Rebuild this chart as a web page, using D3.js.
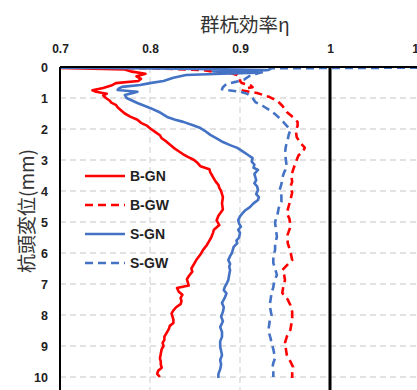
<!DOCTYPE html>
<html><head><meta charset="utf-8">
<script src="https://cdn.jsdelivr.net/npm/d3@7"></script>
<style>body{margin:0;background:#fff;}svg{display:block;}</style>
</head><body><svg id="c" width="417" height="390"></svg>
<script>
const xTicks = [0.7, 0.8, 0.9, 1.0, 1.1];
const xTickLabels = ["0.7", "0.8", "0.9", "1", "1.1"];
const yTicks = [0,1,2,3,4,5,6,7,8,9,10];
const seriesNames = ["B-GN", "B-GW", "S-GN", "S-GW"];
// [depth (mm), eta]
const bgn = [[0,0.6],[0.03,0.7],[0.08,0.772],[0.15,0.78],[0.22,0.795],[0.3,0.785],[0.38,0.79],[0.45,0.787],[0.52,0.762],[0.6,0.757],[0.68,0.748],[0.75,0.736],[0.8,0.74],[0.86,0.752],[0.92,0.748],[1.0,0.751],[1.08,0.755],[1.15,0.757],[1.22,0.762],[1.3,0.764],[1.4,0.768],[1.5,0.772],[1.6,0.778],[1.7,0.786],[1.8,0.79],[1.9,0.797],[2.0,0.801],[2.1,0.806],[2.2,0.811],[2.3,0.813],[2.4,0.818],[2.5,0.822],[2.6,0.826],[2.7,0.831],[2.8,0.836],[2.9,0.842],[3.0,0.849],[3.1,0.853],[3.2,0.856],[3.3,0.866],[3.4,0.867],[3.5,0.869],[3.6,0.871],[3.7,0.873],[3.8,0.876],[3.9,0.877],[4.0,0.879],[4.1,0.88],[4.2,0.881],[4.4,0.88],[4.6,0.881],[4.8,0.876],[4.95,0.874],[5.1,0.877],[5.25,0.871],[5.35,0.87],[5.5,0.868],[5.6,0.866],[5.75,0.863],[5.9,0.859],[6.05,0.856],[6.2,0.852],[6.35,0.849],[6.5,0.846],[6.6,0.847],[6.75,0.843],[6.85,0.841],[6.95,0.842],[7.05,0.843],[7.13,0.83],[7.25,0.832],[7.35,0.836],[7.45,0.834],[7.55,0.835],[7.65,0.834],[7.75,0.829],[7.85,0.826],[7.95,0.824],[8.05,0.825],[8.15,0.826],[8.26,0.826],[8.35,0.822],[8.45,0.821],[8.55,0.819],[8.7,0.816],[8.8,0.816],[8.9,0.814],[9.0,0.815],[9.1,0.813],[9.25,0.812],[9.4,0.811],[9.5,0.812],[9.6,0.812],[9.7,0.813],[9.8,0.809],[9.9,0.808],[10.0,0.811]];
const bgw = [[0,0.6],[0.04,0.8],[0.1,0.86],[0.15,0.87],[0.2,0.89],[0.26,0.897],[0.35,0.9],[0.45,0.9],[0.52,0.902],[0.6,0.912],[0.65,0.914],[0.7,0.905],[0.76,0.903],[0.84,0.919],[0.97,0.933],[1.1,0.942],[1.25,0.947],[1.45,0.952],[1.6,0.958],[1.77,0.964],[1.9,0.964],[2.05,0.962],[2.26,0.963],[2.45,0.967],[2.6,0.972],[2.74,0.97],[2.85,0.965],[3.0,0.963],[3.15,0.961],[3.32,0.959],[3.5,0.957],[3.7,0.958],[3.87,0.956],[4.05,0.958],[4.29,0.956],[4.5,0.954],[4.71,0.952],[4.9,0.955],[5.16,0.956],[5.4,0.953],[5.68,0.953],[5.95,0.956],[6.23,0.958],[6.4,0.952],[6.55,0.947],[6.7,0.949],[6.87,0.95],[7.1,0.948],[7.29,0.947],[7.5,0.953],[7.68,0.956],[7.9,0.958],[8.1,0.958],[8.3,0.957],[8.48,0.956],[8.7,0.952],[8.9,0.95],[9.1,0.951],[9.29,0.952],[9.5,0.956],[9.68,0.959],[9.85,0.958],[10.03,0.958]];
const sgn = [[0,0.6],[0.03,0.75],[0.06,0.85],[0.1,0.93],[0.14,0.87],[0.18,0.92],[0.22,0.88],[0.26,0.84],[0.35,0.826],[0.45,0.815],[0.52,0.8],[0.58,0.789],[0.64,0.769],[0.7,0.765],[0.74,0.764],[0.8,0.786],[0.85,0.78],[0.9,0.772],[0.95,0.773],[1.0,0.774],[1.08,0.78],[1.16,0.786],[1.24,0.793],[1.32,0.8],[1.45,0.81],[1.61,0.819],[1.7,0.828],[1.77,0.837],[1.87,0.847],[1.97,0.856],[2.08,0.862],[2.19,0.867],[2.3,0.874],[2.42,0.881],[2.52,0.889],[2.61,0.897],[2.72,0.903],[2.84,0.909],[2.94,0.914],[3.05,0.913],[3.15,0.916],[3.25,0.915],[3.32,0.92],[3.45,0.916],[3.55,0.917],[3.65,0.918],[3.75,0.916],[3.85,0.919],[3.97,0.92],[4.1,0.918],[4.2,0.921],[4.29,0.92],[4.4,0.915],[4.52,0.911],[4.62,0.906],[4.71,0.903],[4.82,0.9],[4.94,0.898],[5.05,0.899],[5.15,0.901],[5.25,0.898],[5.35,0.9],[5.5,0.899],[5.6,0.896],[5.68,0.897],[5.8,0.893],[5.9,0.892],[6.0,0.891],[6.1,0.889],[6.23,0.887],[6.35,0.889],[6.45,0.888],[6.55,0.889],[6.7,0.888],[6.87,0.887],[7.0,0.885],[7.1,0.883],[7.2,0.882],[7.3,0.885],[7.45,0.883],[7.61,0.88],[7.75,0.882],[7.9,0.881],[8.05,0.879],[8.2,0.881],[8.39,0.878],[8.55,0.88],[8.7,0.88],[8.85,0.878],[9.03,0.878],[9.15,0.879],[9.3,0.88],[9.45,0.878],[9.6,0.879],[9.75,0.878],[9.9,0.876],[10.03,0.876]];
const sgw = [[0,1.3],[0.04,0.935],[0.12,0.93],[0.2,0.92],[0.3,0.91],[0.4,0.905],[0.48,0.895],[0.55,0.885],[0.65,0.881],[0.72,0.88],[0.8,0.9],[0.86,0.908],[1.0,0.914],[1.13,0.917],[1.25,0.925],[1.39,0.933],[1.52,0.939],[1.65,0.944],[1.77,0.948],[1.9,0.952],[2.03,0.956],[2.2,0.954],[2.35,0.953],[2.55,0.951],[2.77,0.95],[3.0,0.951],[3.23,0.952],[3.4,0.949],[3.58,0.947],[3.78,0.946],[3.97,0.944],[4.15,0.946],[4.35,0.946],[4.55,0.943],[4.71,0.942],[4.87,0.94],[5.03,0.939],[5.25,0.94],[5.48,0.941],[5.7,0.939],[5.9,0.939],[6.1,0.937],[6.32,0.937],[6.5,0.939],[6.71,0.941],[6.9,0.938],[7.1,0.937],[7.3,0.935],[7.5,0.934],[7.68,0.933],[7.85,0.934],[8.0,0.935],[8.2,0.933],[8.4,0.932],[8.55,0.932],[8.75,0.934],[8.9,0.935],[9.1,0.937],[9.25,0.938],[9.39,0.939],[9.55,0.937],[9.7,0.936],[9.85,0.937],[10.0,0.937]];

const series = [
  {name: seriesNames[0], data: bgn, color: "#ff0000", dash: null},
  {name: seriesNames[1], data: bgw, color: "#ff0000", dash: "8,5"},
  {name: seriesNames[2], data: sgn, color: "#4472c4", dash: null},
  {name: seriesNames[3], data: sgw, color: "#4472c4", dash: "8,5"}
];

const svg = d3.select("#c");
const L = 60, T = 67, R = 420, B = 420;
const x = d3.scaleLinear().domain([0.7, 1.1]).range([L, R]);
const y = d3.scaleLinear().domain([0, 10]).range([T, 377]);

svg.append("defs").append("clipPath").attr("id","clip")
  .append("rect").attr("x", L).attr("y", T).attr("width", R - L).attr("height", B - T);

// grid
const g = svg.append("g");
g.selectAll("line.hg").data(yTicks.filter(d => d > 0)).enter().append("line")
  .attr("x1", L).attr("x2", R).attr("y1", d => y(d)).attr("y2", d => y(d))
  .attr("stroke", "#d9d9d9").attr("stroke-width", 1.3).attr("stroke-dasharray", "6,4");
g.selectAll("line.vg").data(xTicks.filter(d => d > 0.7 && d !== 1.0)).enter().append("line")
  .attr("y1", T).attr("y2", B).attr("x1", d => x(d)).attr("x2", d => x(d))
  .attr("stroke", "#d9d9d9").attr("stroke-width", 1.3).attr("stroke-dasharray", "6,4");

// series
const line = d3.line().x(d => x(d[1])).y(d => y(d[0]));
const sg = svg.append("g").attr("clip-path", "url(#clip)");
series.forEach(s => {
  sg.append("path").datum(s.data).attr("d", line)
    .attr("fill", "none").attr("stroke", s.color).attr("stroke-width", 2.6)
    .attr("stroke-linejoin", "round")
    .attr("stroke-dasharray", s.dash);
});

// axes
const xAxis = svg.append("g").attr("transform", `translate(0,${T})`)
  .call(d3.axisTop(x).tickValues(xTicks).tickSize(0).tickPadding(14)
    .tickFormat((d, i) => xTickLabels[i]));
xAxis.select(".domain").remove();
xAxis.selectAll("text").attr("font-family", "Liberation Sans, Arial, sans-serif")
  .attr("font-size", 12).attr("font-weight", "bold").attr("fill", "#222");

const yAxis = svg.append("g").attr("transform", `translate(${L - 12},0)`)
  .call(d3.axisLeft(y).tickValues(yTicks).tickSize(0).tickPadding(0));
yAxis.select(".domain").remove();
yAxis.selectAll("text").attr("font-family", "Liberation Sans, Arial, sans-serif")
  .attr("font-size", 12.5).attr("font-weight", "bold").attr("fill", "#222");

// axis lines
svg.append("line").attr("x1", L).attr("x2", R).attr("y1", T).attr("y2", T)
  .attr("stroke", "#000").attr("stroke-width", 2);
svg.append("line").attr("x1", L).attr("x2", L).attr("y1", T).attr("y2", B)
  .attr("stroke", "#000").attr("stroke-width", 2);
svg.append("line").attr("x1", x(1.0)).attr("x2", x(1.0)).attr("y1", T).attr("y2", B)
  .attr("stroke", "#000").attr("stroke-width", 3);

// titles
svg.append("text").attr("x", 245).attr("y", 32).attr("text-anchor", "middle")
  .attr("font-family", "Noto Sans CJK JP, sans-serif").attr("font-size", 19.5)
  .attr("fill", "#333").text("群杭効率η");
svg.append("text").attr("transform", "translate(34,211) rotate(-90)").attr("text-anchor", "middle")
  .attr("font-family", "Noto Sans CJK JP, sans-serif").attr("font-size", 19)
  .attr("fill", "#333").text("杭頭変位(mm)");

// legend
const lg = svg.append("g");
series.forEach((s, i) => {
  const ly = 176 + i * 29;
  lg.append("line").attr("x1", 85).attr("x2", 125).attr("y1", ly).attr("y2", ly)
    .attr("stroke", s.color).attr("stroke-width", 2.6).attr("stroke-dasharray", s.dash);
  lg.append("text").attr("x", 130).attr("y", ly + 5)
    .attr("font-family", "Liberation Sans, Arial, sans-serif").attr("font-size", 14)
    .attr("font-weight", "bold").attr("fill", "#222").text(s.name);
});
</script></body></html>
